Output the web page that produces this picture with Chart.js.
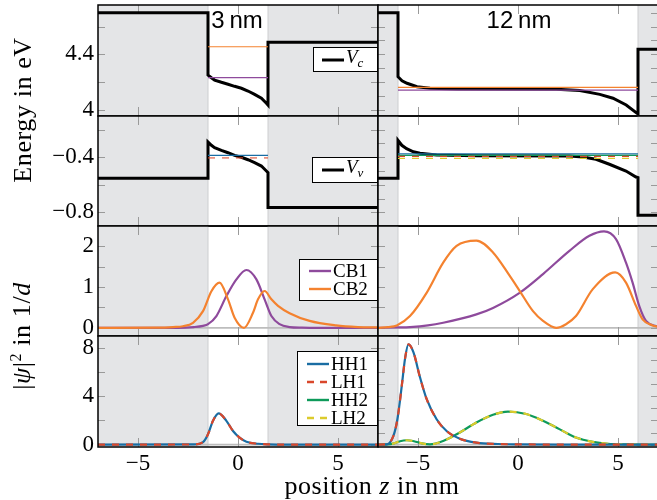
<!DOCTYPE html>
<html>
<head>
<meta charset="utf-8">
<script src="https://cdn.jsdelivr.net/npm/chart.js@4.4.1/dist/chart.umd.min.js"></script>
<style>
    html, body { margin: 0; padding: 0; background: #fff; }
    #fig { position: relative; width: 657px; height: 500px; overflow: hidden; font-family: "Liberation Serif", serif; color: #000; }
    #fig canvas { position: absolute; }
    .title { position: absolute; font-family: "Liberation Sans", sans-serif; font-size: 24px; line-height: 24px; transform: translateX(-50%); white-space: nowrap; }
    .ylab { position: absolute; font-size: 26px; letter-spacing: 0.6px; white-space: nowrap; transform: translate(-50%, -50%) rotate(-90deg); }
    .xlab { position: absolute; font-size: 26px; letter-spacing: 0.5px; white-space: nowrap; transform: translate(-50%, -50%); }
    .legend { position: absolute; box-sizing: border-box; border: 1.3px solid #000; background: #fff; font-size: 19px; }
    .legend .row { display: flex; align-items: center; height: 18px; line-height: 18px; }
    .legend svg { display: block; margin-right: 1px; }
    .sub { font-size: 13px; vertical-align: -4px; font-style: italic; }
</style>
</head>
<body>
<div id="fig"></div>
<script>
// ── Axis ranges / ticks ────────────────────────────────────────────────
const Z_RANGE = [-7, 7];
const VC_RANGE = [3.955, 4.755];
const VV_RANGE = [-0.9, -0.1];
const CB_RANGE = [-0.2, 2.5];
const VB_RANGE = [-0.2, 9];

const X_TICKS = [-5, 0, 5];
const VC_LABELS = [4, 4.4];
const VV_LABELS = [-0.8, -0.4];
const CB_LABELS = [0, 1, 2];
const VB_LABELS = [0, 4, 8];

const VC_MINOR_3 = [4.0, 4.2, 4.4, 4.6];
const VC_MINOR_12 = [4.0, 4.1, 4.2, 4.3, 4.4, 4.5, 4.6, 4.7];
const VV_MINOR_3 = [-0.8, -0.6, -0.4, -0.2];
const VV_MINOR_12 = [-0.8, -0.7, -0.6, -0.5, -0.4, -0.3, -0.2];
const CB_MINOR = [0, 0.5, 1, 1.5, 2];
const VB_MINOR_3 = [0, 2, 4, 6, 8];
const VB_MINOR_12 = [0, 1, 2, 3, 4, 5, 6, 7, 8];

// quantum well extent (nm)
const WELL_3 = [-1.5, 1.5];
const WELL_12 = [-6, 6];

// ── Band edges (eV) ────────────────────────────────────────────────────
const Z_VC3 = [-7, -1.5, -1.5, -1.33, -1.17, -0.83, -0.5, -0.17, 0.17, 0.5, 0.83, 1.17, 1.42, 1.5, 1.5, 7];
const VC3 = [4.70, 4.70, 4.250, 4.231, 4.214, 4.198, 4.184, 4.169, 4.155, 4.135, 4.111, 4.083, 4.047, 4.034, 4.486, 4.486];

const Z_VC12 = [-7, -6, -6, -5.8, -5.55, -5.05, -4.4, -3.06, 1.92, 3.09, 4.09, 4.75, 5.41, 5.96, 6, 6, 7];
const VC12 = [4.70, 4.70, 4.238, 4.209, 4.191, 4.166, 4.155, 4.150, 4.148, 4.138, 4.111, 4.083, 4.034, 3.974, 3.972, 4.436, 4.436];

const Z_VV3 = [-7, -1.5, -1.5, -1.33, -1.17, -0.83, -0.5, -0.17, 0.17, 0.5, 0.83, 1.17, 1.42, 1.5, 1.5, 7];
const VV3 = [-0.553, -0.553, -0.289, -0.313, -0.330, -0.350, -0.367, -0.386, -0.400, -0.418, -0.439, -0.464, -0.500, -0.512, -0.765, -0.765];

const Z_VV12 = [-7, -6, -6, -5.81, -5.57, -5.23, -4.9, -4.07, -2.08, 2.57, 3.24, 3.9, 4.57, 5.4, 5.9, 6, 6, 7];
const VV12 = [-0.553, -0.553, -0.277, -0.313, -0.338, -0.360, -0.371, -0.384, -0.389, -0.391, -0.398, -0.415, -0.451, -0.500, -0.544, -0.548, -0.822, -0.822];

// ── Eigen-energies (eV) ────────────────────────────────────────────────
const CB_LEVELS_3 = [4.231, 4.454];            // CB1, CB2
const CB_LEVELS_12 = [4.142, 4.162];           // CB1, CB2
const VB_LEVELS_3 = [-0.386, -0.405];          // HH1, LH1
const VB_LEVELS_12 = [-0.376, -0.393, -0.386, -0.408]; // HH1, LH1, HH2, LH2

// ── |psi|^2 (1/d) ──────────────────────────────────────────────────────
const Z_CB1_3 = [-7, -3, -2.2, -1.75, -1.5, -1.08, -0.58, -0.08, 0.42, 0.92, 1.33, 1.67, 2.08, 2.58, 3.2, 4, 7];
const CB1_3 = [0, 0, 0.02, 0.05, 0.09, 0.29, 0.78, 1.19, 1.42, 1.19, 0.70, 0.29, 0.09, 0.02, 0.005, 0, 0];

const Z_CB2_3 = [-7, -4, -3.25, -2.75, -2.25, -1.75, -1.33, -0.92, -0.5, -0.17, 0.3, 0.75, 1.0, 1.33, 1.67, 2.0, 2.58, 3.58, 4.9, 6, 7];
const CB2_3 = [0, 0.005, 0.02, 0.04, 0.125, 0.41, 0.90, 1.11, 0.70, 0.25, 0, 0.37, 0.70, 0.905, 0.70, 0.54, 0.36, 0.17, 0.06, 0.02, 0.01];

const Z_CB1_12 = [-7, -6, -5.4, -4.5, -3.74, -2.08, -1.25, 0.08, 1.25, 2.57, 3.57, 4.3, 4.9, 5.4, 5.73, 6.06, 6.4, 7];
const CB1_12 = [0, 0.01, 0.02, 0.06, 0.125, 0.33, 0.49, 0.86, 1.32, 1.89, 2.26, 2.37, 2.18, 1.60, 1.11, 0.54, 0.17, 0.03];

const Z_CB2_12 = [-7, -6.5, -6.06, -5.4, -4.57, -3.74, -3.07, -2.08, -1.25, -0.42, 0.08, 0.75, 1.25, 1.91, 2.4, 2.9, 3.74, 4.86, 5.4, 5.9, 6.23, 6.73, 7];
const CB2_12 = [0, 0.02, 0.06, 0.29, 0.86, 1.60, 2.01, 2.14, 1.85, 1.28, 0.91, 0.41, 0.17, 0, 0.09, 0.29, 0.95, 1.36, 1.11, 0.54, 0.21, 0.06, 0.03];

const Z_HH1_3 = [-7, -2.2, -1.75, -1.5, -1.25, -0.97, -0.58, -0.25, 0.08, 0.42, 1, 1.5, 2.5, 7];
const HH1_3 = [0, 0.01, 0.2, 0.86, 1.97, 2.58, 1.97, 1.13, 0.58, 0.24, 0.07, 0.02, 0, 0];
const LH1_3 = [0, 0.01, 0.2, 0.86, 1.97, 2.58, 1.97, 1.13, 0.58, 0.24, 0.07, 0.02, 0, 0];

const Z_HH1_12 = [-7, -6.56, -6.23, -6.03, -5.81, -5.65, -5.48, -5.23, -4.9, -4.57, -4.07, -3.57, -2.91, -2.08, -1, 0, 2, 7];
const HH1_12 = [0, 0.02, 0.72, 2.1, 4.88, 7.1, 8.3, 7.66, 5.58, 3.78, 2.1, 1.13, 0.49, 0.16, 0.05, 0.02, 0, 0];
const LH1_12 = [0, 0.02, 0.72, 2.1, 4.88, 7.1, 8.3, 7.66, 5.58, 3.78, 2.1, 1.13, 0.49, 0.16, 0.05, 0.02, 0, 0];

const Z_HH2_12 = [-7, -6.5, -6.2, -5.9, -5.56, -5.2, -4.8, -4.4, -3.74, -2.91, -2.08, -1.25, -0.5, 0.41, 1.25, 2.07, 2.9, 3.74, 4.5, 5.5, 7];
const HH2_12 = [0, 0.01, 0.1, 0.28, 0.36, 0.28, 0.1, 0.02, 0.3, 1.0, 1.83, 2.47, 2.74, 2.53, 1.97, 1.28, 0.58, 0.22, 0.07, 0.02, 0];
const LH2_12 = [0, 0.01, 0.1, 0.28, 0.36, 0.28, 0.1, 0.02, 0.3, 1.0, 1.83, 2.47, 2.74, 2.53, 1.97, 1.28, 0.58, 0.22, 0.07, 0.02, 0];

// ── Palette ────────────────────────────────────────────────────────────
const C = {
    pot: '#000000',
    cb1: '#8e4a9c',
    cb2: '#f4822f',
    hh1: '#1a6da3',
    lh1: '#d9472b',
    hh2: '#0e9a5a',
    lh2: '#dccb2c',
    barrier: '#e4e5e7',
    edge: '#cdced0',
    zero: '#bdbdbd',
    tick: '#9a9a9a',
};
const DASH = [7, 7];
const SERIF = '"Liberation Serif", "Times New Roman", serif';
const TICK_FONT = { family: SERIF, size: 23 };

Chart.defaults.font.family = SERIF;
Chart.defaults.color = '#000';

const fmt = (v) => (v < 0 ? '\u2212' : '') + String(Math.round(Math.abs(v) * 10) / 10);

/* ── Panel decoration: barrier shading, zero line, inner ticks, frame ── */
const panelDecor = {
    id: 'panelDecor',
    beforeDatasetsDraw(chart, args, o) {
        const { ctx, chartArea: a, scales: { x, y } } = chart;
        ctx.save();
        const wl = x.getPixelForValue(o.well[0]);
        const wr = x.getPixelForValue(o.well[1]);
        ctx.fillStyle = C.barrier;
        ctx.fillRect(a.left, a.top, wl - a.left, a.bottom - a.top);
        ctx.fillRect(wr, a.top, a.right - wr, a.bottom - a.top);
        ctx.strokeStyle = C.edge;
        ctx.lineWidth = 1;
        [wl, wr].forEach((px) => {
            ctx.beginPath(); ctx.moveTo(px, a.top); ctx.lineTo(px, a.bottom); ctx.stroke();
        });
        if (o.zeroLine) {
            const py = y.getPixelForValue(0);
            ctx.strokeStyle = C.zero;
            ctx.lineWidth = 1.6;
            ctx.beginPath(); ctx.moveTo(a.left, py); ctx.lineTo(a.right, py); ctx.stroke();
        }
        ctx.strokeStyle = C.tick;
        ctx.lineWidth = 1;
        X_TICKS.forEach((t) => {
            const px = Math.round(x.getPixelForValue(t)) + 0.5;
            ctx.beginPath();
            ctx.moveTo(px, a.top); ctx.lineTo(px, a.top + 9);
            ctx.moveTo(px, a.bottom); ctx.lineTo(px, a.bottom - 9);
            ctx.stroke();
        });
        o.yTicks.forEach((t) => {
            const py = Math.round(y.getPixelForValue(t)) + 0.5;
            ctx.beginPath();
            ctx.moveTo(a.left, py); ctx.lineTo(a.left + 7, py);
            ctx.moveTo(a.right, py); ctx.lineTo(a.right - 7, py);
            ctx.stroke();
        });
        ctx.restore();
    },
    afterDatasetsDraw(chart) {
        const { ctx, chartArea: a } = chart;
        ctx.save();
        ctx.strokeStyle = '#000';
        ctx.lineWidth = 1.5;
        ctx.strokeRect(a.left, a.top, a.right - a.left, a.bottom - a.top);
        ctx.restore();
    }
};

function curve(zs, vs, color, extra = {}) {
    return {
        data: zs.map((z, i) => ({ x: z, y: vs[i] })),
        borderColor: color,
        borderWidth: 2.2,
        pointRadius: 0,
        fill: false,
        tension: 0,
        ...extra
    };
}
const smooth = (zs, vs, color, extra = {}) =>
    curve(zs, vs, color, { cubicInterpolationMode: 'monotone', ...extra });
const level = (well, e, color, extra = {}) =>
    curve(well, [e, e], color, { borderWidth: 1.2, ...extra });
const potential = (zs, vs) => curve(zs, vs, C.pot, { borderWidth: 3 });

// axis sizes are fixed so the panels line up; label overflow padding is dropped
function fixX(s) {
    s.paddingLeft = 0; s.paddingRight = 0;
    if (s.options.display) s.height = 30;
}
function fixY(s) {
    s.paddingTop = 0; s.paddingBottom = 0;
    if (s.options.display) s.width = 98;
}

const ROW_TOP = [5, 116, 226, 336];
const ROW_H = [111, 110, 110, 111];
const fig = document.getElementById('fig');

function makePanel(col, row, range, labels, minor, well, zeroLine, datasets) {
    const cv = document.createElement('canvas');
    const bottom = row === 3;
    const left = col === 0 ? 0 : 376;
    const w = col === 0 ? 380 : 284;
    const top = ROW_TOP[row] - 2;
    const h = ROW_H[row] + 2 + (bottom ? 30 : 2);
    cv.width = w; cv.height = h;
    cv.style.left = left + 'px'; cv.style.top = top + 'px';
    fig.appendChild(cv);

    // first dataset drawn at the bottom
    datasets.forEach((d, i) => { d.order = datasets.length - i; });

    new Chart(cv, {
        type: 'line',
        data: { datasets },
        options: {
            responsive: false,
            animation: false,
            devicePixelRatio: 1,
            events: [],
            layout: { padding: { left: col === 0 ? 0 : 2, right: 2, top: 2, bottom: bottom ? 0 : 2 } },
            plugins: {
                legend: { display: false },
                tooltip: { enabled: false },
                panelDecor: { well, zeroLine, yTicks: minor }
            },
            scales: {
                x: {
                    type: 'linear',
                    min: Z_RANGE[0], max: Z_RANGE[1],
                    display: bottom,
                    grid: { display: false, drawTicks: false },
                    border: { display: false },
                    afterBuildTicks: (s) => { s.ticks = X_TICKS.map((v) => ({ value: v })); },
                    afterFit: fixX,
                    ticks: { autoSkip: false, maxRotation: 0, padding: 3, font: TICK_FONT, callback: fmt }
                },
                y: {
                    type: 'linear',
                    min: range[0], max: range[1],
                    display: col === 0,
                    grid: { display: false, drawTicks: false },
                    border: { display: false },
                    afterBuildTicks: (s) => { s.ticks = labels.map((v) => ({ value: v })); },
                    afterFit: fixY,
                    ticks: { autoSkip: false, padding: 4, font: TICK_FONT, callback: fmt }
                }
            }
        },
        plugins: [panelDecor]
    });
}

function drawAll() {
    // row 1: conduction band edge
    makePanel(0, 0, VC_RANGE, VC_LABELS, VC_MINOR_3, WELL_3, false, [
        potential(Z_VC3, VC3),
        level(WELL_3, CB_LEVELS_3[0], C.cb1),
        level(WELL_3, CB_LEVELS_3[1], C.cb2),
    ]);
    makePanel(1, 0, VC_RANGE, VC_LABELS, VC_MINOR_12, WELL_12, false, [
        potential(Z_VC12, VC12),
        level(WELL_12, CB_LEVELS_12[0], C.cb1),
        level(WELL_12, CB_LEVELS_12[1], C.cb2),
    ]);

    // row 2: valence band edge
    makePanel(0, 1, VV_RANGE, VV_LABELS, VV_MINOR_3, WELL_3, false, [
        potential(Z_VV3, VV3),
        level(WELL_3, VB_LEVELS_3[0], C.hh1),
        level(WELL_3, VB_LEVELS_3[1], 'rgba(217,71,43,0.6)', { borderWidth: 1.8, borderDash: DASH }),
    ]);
    makePanel(1, 1, VV_RANGE, VV_LABELS, VV_MINOR_12, WELL_12, false, [
        potential(Z_VV12, VV12),
        level(WELL_12, VB_LEVELS_12[0], C.hh1),
        level(WELL_12, VB_LEVELS_12[2], C.hh2),
        level(WELL_12, VB_LEVELS_12[1], C.lh1, { borderDash: DASH }),
        level(WELL_12, VB_LEVELS_12[3], C.lh2, { borderDash: DASH }),
    ]);

    // row 3: conduction band |psi|^2
    makePanel(0, 2, CB_RANGE, CB_LABELS, CB_MINOR, WELL_3, true, [
        smooth(Z_CB1_3, CB1_3, C.cb1),
        smooth(Z_CB2_3, CB2_3, C.cb2),
    ]);
    makePanel(1, 2, CB_RANGE, CB_LABELS, CB_MINOR, WELL_12, true, [
        smooth(Z_CB1_12, CB1_12, C.cb1),
        smooth(Z_CB2_12, CB2_12, C.cb2),
    ]);

    // row 4: valence band |psi|^2
    makePanel(0, 3, VB_RANGE, VB_LABELS, VB_MINOR_3, WELL_3, true, [
        smooth(Z_HH1_3, HH1_3, C.hh1),
        smooth(Z_HH1_3, LH1_3, C.lh1, { borderDash: DASH }),
    ]);
    makePanel(1, 3, VB_RANGE, VB_LABELS, VB_MINOR_12, WELL_12, true, [
        smooth(Z_HH2_12, HH2_12, C.hh2),
        smooth(Z_HH2_12, LH2_12, C.lh2, { borderDash: DASH }),
        smooth(Z_HH1_12, HH1_12, C.hh1),
        smooth(Z_HH1_12, LH1_12, C.lh1, { borderDash: DASH }),
    ]);
}

/* ── Texts and legends ──────────────────────────────────────────────── */
function sample(color, dashed, width) {
    const dash = dashed ? ' stroke-dasharray="7 6"' : '';
    return `<svg width="24" height="18"><line x1="1" y1="9" x2="23" y2="9" stroke="${color}" stroke-width="${width}"${dash}/></svg>`;
}
function legend(x, y, w, h, padTop, padLeft, items) {
    const el = document.createElement('div');
    el.className = 'legend';
    Object.assign(el.style, { left: x + 'px', top: y + 'px', width: w + 'px', height: h + 'px', paddingTop: padTop + 'px', paddingLeft: padLeft + 'px' });
    el.innerHTML = items.map((it) => `<div class="row">${sample(it.color, it.dashed, it.width || 2.4)}<span>${it.label}</span></div>`).join('');
    fig.appendChild(el);
}
function text(cls, x, y, html) {
    const el = document.createElement('div');
    el.className = cls;
    el.style.left = x + 'px';
    el.style.top = y + 'px';
    el.innerHTML = html;
    fig.appendChild(el);
}
function drawTexts() {
    legend(313, 47, 65, 25, 2.5, 7, [{ color: '#000', width: 3, label: '<i>V</i><span class="sub">c</span>' }]);
    legend(312, 157, 66, 26, 3, 8, [{ color: '#000', width: 3, label: '<i>V</i><span class="sub">v</span>' }]);
    legend(299, 259, 79, 42, 2, 8, [
        { color: C.cb1, label: 'CB1' },
        { color: C.cb2, label: 'CB2' },
    ]);
    legend(297, 351, 81, 75, 3, 8, [
        { color: C.hh1, label: 'HH1' },
        { color: C.lh1, dashed: true, label: 'LH1' },
        { color: C.hh2, label: 'HH2' },
        { color: C.lh2, dashed: true, label: 'LH2' },
    ]);
    text('title', 237, 8, '3\u2009nm');
    text('title', 519, 8, '12\u2009nm');
    text('ylab', 23, 110, 'Energy in eV');
    text('ylab', 22, 336, '|<i>\u03c8</i>|<sup style="font-size:16px">2</sup> in 1/<i>d</i>');
    text('xlab', 372, 486, 'position <i>z</i> in nm');
}

// make sure the serif face is ready before the canvases paint their labels
let done = false;
function start() {
    if (done) return;
    done = true;
    drawAll();
    drawTexts();
}
document.fonts.load('23px "Liberation Serif"').then(start, start);
setTimeout(start, 1500);
</script>
</body>
</html>
